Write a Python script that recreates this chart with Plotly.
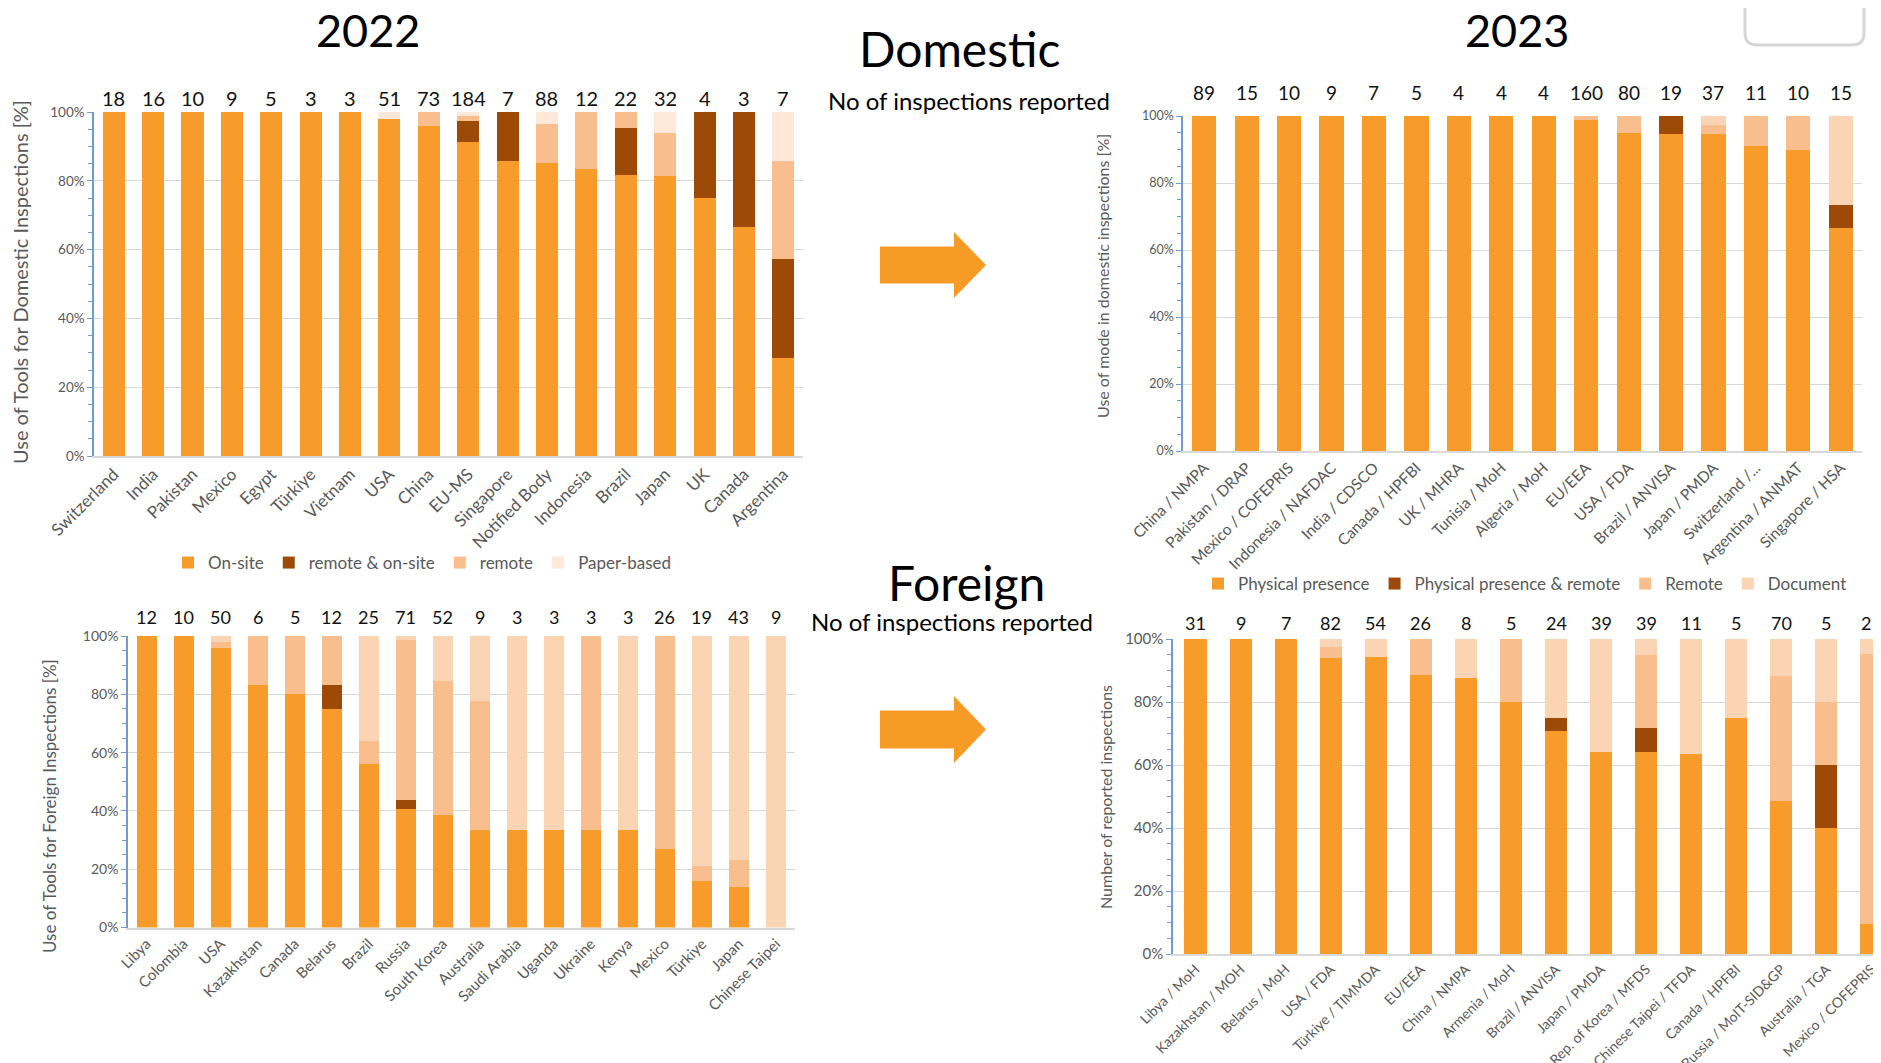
import plotly.graph_objects as go

W, H = 1881, 1063

# ---------------- data ----------------
dom22_cats = ["Switzerland", "India", "Pakistan", "Mexico", "Egypt", "Türkiye", "Vietnam", "USA", "China",
              "EU-MS", "Singapore", "Notified Body", "Indonesia", "Brazil", "Japan", "UK", "Canada", "Argentina"]
dom22_counts = [18, 16, 10, 9, 5, 3, 3, 51, 73, 184, 7, 88, 12, 22, 32, 4, 3, 7]
dom22_onsite = [100, 100, 100, 100, 100, 100, 100, 98.0, 95.9, 91.3, 85.7, 85.2, 83.3, 81.8, 81.3, 75.0, 66.7, 28.6]
dom22_remote_onsite = [0, 0, 0, 0, 0, 0, 0, 0, 0, 6.0, 14.3, 0, 0, 13.6, 0, 25.0, 33.3, 28.6]
dom22_remote = [0, 0, 0, 0, 0, 0, 0, 0, 4.1, 1.6, 0, 11.4, 16.7, 4.6, 12.5, 0, 0, 28.6]
dom22_paper = [0, 0, 0, 0, 0, 0, 0, 2.0, 0, 1.1, 0, 3.4, 0, 0, 6.2, 0, 0, 14.2]

dom23_cats = ["China / NMPA", "Pakistan / DRAP", "Mexico / COFEPRIS", "Indonesia / NAFDAC", "India / CDSCO",
              "Canada / HPFBI", "UK / MHRA", "Tunisia / MoH", "Algeria / MoH", "EU/EEA", "USA / FDA",
              "Brazil / ANVISA", "Japan / PMDA", "Switzerland /...", "Argentina / ANMAT", "Singapore / HSA"]
dom23_counts = [89, 15, 10, 9, 7, 5, 4, 4, 4, 160, 80, 19, 37, 11, 10, 15]
dom23_physical = [100, 100, 100, 100, 100, 100, 100, 100, 100, 98.8, 95.0, 94.7, 94.6, 90.9, 90.0, 66.7]
dom23_phys_remote = [0, 0, 0, 0, 0, 0, 0, 0, 0, 0, 0, 5.3, 0, 0, 0, 6.6]
dom23_remote = [0, 0, 0, 0, 0, 0, 0, 0, 0, 1.2, 5.0, 0, 2.7, 9.1, 10.0, 0]
dom23_document = [0, 0, 0, 0, 0, 0, 0, 0, 0, 0, 0, 0, 2.7, 0, 0, 26.7]

for22_cats = ["Libya", "Colombia", "USA", "Kazakhstan", "Canada", "Belarus", "Brazil", "Russia", "South Korea",
              "Australia", "Saudi Arabia", "Uganda", "Ukraine", "Kenya", "Mexico", "Türkiye", "Japan",
              "Chinese Taipei"]
for22_counts = [12, 10, 50, 6, 5, 12, 25, 71, 52, 9, 3, 3, 3, 3, 26, 19, 43, 9]
for22_onsite = [100, 100, 96.0, 83.3, 80.0, 75.0, 56.0, 40.8, 38.5, 33.3, 33.3, 33.3, 33.3, 33.3, 26.9, 15.8, 14.0, 0]
for22_remote_onsite = [0, 0, 0, 0, 0, 8.3, 0, 2.8, 0, 0, 0, 0, 0, 0, 0, 0, 0, 0]
for22_remote = [0, 0, 2.0, 16.7, 20.0, 16.7, 8.0, 55.0, 46.1, 44.5, 0, 0, 66.7, 0, 73.1, 5.3, 9.3, 0]
for22_paper = [0, 0, 2.0, 0, 0, 0, 36.0, 1.4, 15.4, 22.2, 66.7, 66.7, 0, 66.7, 0, 78.9, 76.7, 100]

for23_cats = ["Libya / MoH", "Kazakhstan / MOH", "Belarus / MoH", "USA / FDA", "Türkiye / TIMMDA", "EU/EEA",
              "China / NMPA", "Armenia / MoH", "Brazil / ANVISA", "Japan / PMDA", "Rep. of Korea / MFDS",
              "Chinese Taipei / TFDA", "Canada / HPFBI", "Russia / MoIT-SID&GP", "Australia / TGA",
              "Mexico / COFEPRIS"]
for23_counts = [31, 9, 7, 82, 54, 26, 8, 5, 24, 39, 39, 11, 5, 70, 5, 21]
for23_physical = [100, 100, 100, 93.9, 94.4, 88.5, 87.5, 80.0, 70.8, 64.1, 64.1, 63.6, 75.0, 48.6, 40.0, 9.5]
for23_phys_remote = [0, 0, 0, 0, 0, 0, 0, 0, 4.2, 0, 7.7, 0, 0, 0, 20.0, 0]
for23_remote = [0, 0, 0, 3.7, 0, 11.5, 0, 20.0, 0, 0, 23.1, 0, 0, 39.5, 20.0, 85.7]
for23_document = [0, 0, 0, 2.4, 5.6, 0, 12.5, 0, 25.0, 35.9, 5.1, 36.4, 25.0, 11.9, 20.0, 4.8]

names22 = ["On-site", "remote & on-site", "remote", "Paper-based"]
names23 = ["Physical presence", "Physical presence & remote", "Remote", "Document"]

# ---------------- style ----------------
FONT = "Lato"
C_ORANGE = "#F79C2A"
C_BROWN = "#9C4A06"
C_LIGHT = "#F9BE8E"
C_PALE = "#FBD4B4"
C_PAPER22 = "#FDE8D9"
GRAY = "#595959"
AXBLUE = "#6C9BD6"

OFF = 8  # page offset of the figure inside the browser window


def px(x):
    return (x - OFF) / W


def py(y):
    return 1 - (y - OFF) / H


fig = go.Figure()

panels = [
    ("x", "y", dom22_cats, [dom22_onsite, dom22_remote_onsite, dom22_remote, dom22_paper], names22,
     [C_ORANGE, C_BROWN, C_LIGHT, C_PAPER22], "legend", True, 0.56),
    ("x2", "y2", dom23_cats, [dom23_physical, dom23_phys_remote, dom23_remote, dom23_document], names23,
     [C_ORANGE, C_BROWN, C_LIGHT, C_PALE], "legend2", True, 0.57),
    ("x3", "y3", for22_cats, [for22_onsite, for22_remote_onsite, for22_remote, for22_paper], names22,
     [C_ORANGE, C_BROWN, C_LIGHT, C_PALE], "legend", False, 0.54),
    ("x4", "y4", for23_cats, [for23_physical, for23_phys_remote, for23_remote, for23_document], names23,
     [C_ORANGE, C_BROWN, C_LIGHT, C_PALE], "legend2", False, 0.49),
]

for xa, ya, cats, series, names, colors, lg, show, bw in panels:
    for vals, nm, col in zip(series, names, colors):
        fig.add_trace(go.Bar(x=cats, y=vals, name=nm, marker=dict(color=col, line=dict(width=0)),
                             xaxis=xa, yaxis=ya, legend=lg, showlegend=show, width=bw,
                             hovertemplate="%{x}: %{y}%<extra>" + nm + "</extra>"))


# ---------------- axes ----------------
def yax(dom, anchor, tsize):
    return dict(domain=dom, anchor=anchor, range=[0, 100], dtick=20, ticksuffix="%",
                showgrid=True, gridcolor="#D9D9D9", gridwidth=1.3, zeroline=False,
                showline=True, linecolor=AXBLUE, linewidth=1.5,
                ticks="outside", ticklen=5, tickcolor=AXBLUE, automargin=False,
                minor=dict(dtick=5, ticks="outside", ticklen=4, tickcolor=AXBLUE, showgrid=False),
                tickfont=dict(family=FONT, size=tsize, color=GRAY), fixedrange=True)


def xax(dom, anchor, tsize, rng):
    return dict(domain=dom, anchor=anchor, type="category", range=rng, tickangle=-45,
                showline=True, linecolor="#D9D9D9", linewidth=1.5, showgrid=False,
                ticks="", automargin=False,
                tickfont=dict(family=FONT, size=tsize, color=GRAY), fixedrange=True)


# bottom-right panel: bars spaced 45.1 px from x=1173, last bar cut by the window edge
br_right = min(1.0, px(1894))
br_range_end = 15.5 - (1894 - (br_right * W + OFF)) / 45.1

fig.update_layout(
    xaxis=xax([px(94), px(803)], "y", 17, [-0.5, 17.5]),
    yaxis=yax([py(456), py(112)], "x", 13.5),
    xaxis2=xax([px(1183), px(1862)], "y2", 15.5, [-0.5, 15.5]),
    yaxis2=yax([py(451), py(116)], "x2", 12.5),
    xaxis3=xax([px(128), px(794.5)], "y3", 15, [-0.5, 17.5]),
    yaxis3=yax([py(927.5), py(636)], "x3", 14),
    xaxis4=xax([px(1173), br_right], "y4", 14, [-0.5, br_range_end]),
    yaxis4=yax([py(954), py(639)], "x4", 15),
)

# ---------------- count labels ----------------
count_sets = [("x", "y", dom22_cats, dom22_counts, 20, 14),
              ("x2", "y2", dom23_cats, dom23_counts, 19, 23),
              ("x3", "y3", for22_cats, for22_counts, 18, 19),
              ("x4", "y4", for23_cats, for23_counts, 18, 16)]
annotations = []
for xa, ya, cats, counts, fs, shift in count_sets:
    for c, n in zip(cats, counts):
        annotations.append(dict(x=c, y=100, xref=xa, yref=ya, text=str(n), showarrow=False,
                                yanchor="middle", yshift=shift,
                                font=dict(family=FONT, size=fs, color="#111111")))


# ---------------- titles & texts ----------------
def txt(x, y, s, size, color="#000000", xanchor="center", angle=0):
    annotations.append(dict(x=px(x), y=py(y), xref="paper", yref="paper", text=s, showarrow=False,
                            xanchor=xanchor, yanchor="middle", textangle=angle,
                            font=dict(family=FONT, size=size, color=color)))


txt(368, 30, "2022", 45)
txt(1517, 30, "2023", 45)
txt(960, 48, "Domestic", 48)
txt(966, 582, "Foreign", 48)
txt(826, 100, "No of inspections reported", 24, xanchor="left")
txt(809, 621, "No of inspections reported", 24, xanchor="left")

txt(20, 282, "Use of Tools for Domestic Inspections [%]", 20, GRAY, angle=-90)
txt(1102, 276, "Use of mode in domestic inspections [%]", 16, GRAY, angle=-90)
txt(49, 806, "Use of Tools for Foreign Inspections [%]", 17, GRAY, angle=-90)
txt(1105, 797, "Number of reported inspections", 16, GRAY, angle=-90)


# ---------------- shapes: arrows and rounded box ----------------
def arrow_path(x0, x1, xt, yc, shaft_h, head_h):
    pts = [(x0, yc - shaft_h / 2), (x1, yc - shaft_h / 2), (x1, yc - head_h / 2), (xt, yc),
           (x1, yc + head_h / 2), (x1, yc + shaft_h / 2), (x0, yc + shaft_h / 2)]
    return "M " + " L ".join(f"{px(a):.5f},{py(b):.5f}" for a, b in pts) + " Z"


shapes = [
    dict(type="path", xref="paper", yref="paper", path=arrow_path(880, 954, 986, 265, 37, 66),
         fillcolor="#F79B27", line=dict(width=0)),
    dict(type="path", xref="paper", yref="paper", path=arrow_path(880, 954, 986, 729.5, 38, 67),
         fillcolor="#F79B27", line=dict(width=0)),
]
bx0, bx1, by0, by1, r = 1745, 1864, -10, 45, 12
rp = (f"M {px(bx0):.5f},{py(by0):.5f} L {px(bx0):.5f},{py(by1 - r):.5f} "
      f"Q {px(bx0):.5f},{py(by1):.5f} {px(bx0 + r):.5f},{py(by1):.5f} "
      f"L {px(bx1 - r):.5f},{py(by1):.5f} Q {px(bx1):.5f},{py(by1):.5f} {px(bx1):.5f},{py(by1 - r):.5f} "
      f"L {px(bx1):.5f},{py(by0):.5f}")
shapes.append(dict(type="path", xref="paper", yref="paper", path=rp, line=dict(color="#D6D6D6", width=3)))

legend_font = dict(family=FONT, size=17, color=GRAY)
fig.update_layout(
    width=W, height=H, margin=dict(l=0, r=0, t=0, b=0, autoexpand=False),
    paper_bgcolor="white", plot_bgcolor="white",
    barmode="stack",
    annotations=annotations, shapes=shapes,
    legend=dict(orientation="h", x=px(422), y=py(563), xanchor="center", yanchor="middle",
                traceorder="normal", font=legend_font, bgcolor="rgba(0,0,0,0)",
                itemclick=False, itemdoubleclick=False),
    legend2=dict(orientation="h", x=px(1525), y=py(584), xanchor="center", yanchor="middle",
                 traceorder="normal", font=legend_font, bgcolor="rgba(0,0,0,0)",
                 itemclick=False, itemdoubleclick=False),
    font=dict(family=FONT),
)

fig.write_html("out.html")
